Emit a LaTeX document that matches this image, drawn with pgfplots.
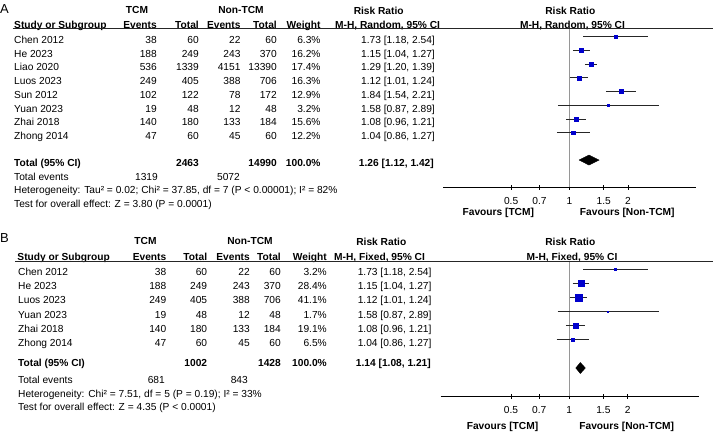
\documentclass[border=0pt]{standalone}
\usepackage{fontspec}
\setmainfont{Liberation Sans}
\usepackage{pgfplots}
\usepackage{pgfplotstable}
\pgfplotsset{compat=1.18}
\definecolor{rmblue}{RGB}{0,0,205}
\definecolor{rmgray}{RGB}{150,150,150}
\newcommand\fs{\fontsize{10.2bp}{12bp}\selectfont}
\newcommand\fb{\fontsize{10.2bp}{12bp}\selectfont\bfseries}
\tikzset{
 tl/.style={anchor=base west, inner sep=0pt, font=\fs},
 tr/.style={anchor=base east, inner sep=0pt, font=\fs},
 tc/.style={anchor=base, inner sep=0pt, font=\fs},
 bl/.style={anchor=base west, inner sep=0pt, font=\fb},
 br/.style={anchor=base east, inner sep=0pt, font=\fb},
 bc/.style={anchor=base, inner sep=0pt, font=\fb},
}
\newcommand\Lt[3]{\node[tl] at (#1,#2+3.6) {#3};}
\newcommand\Rt[3]{\node[tr] at (#1,#2+3.6) {#3};}
\newcommand\Ct[3]{\node[tc] at (#1,#2+3.6) {#3};}
\newcommand\Lb[3]{\node[bl] at (#1,#2+3.6) {#3};}
\newcommand\Rb[3]{\node[br] at (#1,#2+3.6) {#3};}
\newcommand\Cb[3]{\node[bc] at (#1,#2+3.6) {#3};}
% panel rows: y, name, e1, t1, e2, t2, weight, rr
\newcommand\rowA[8]{\Lt{14}{#1}{#2}\Rt{157}{#1}{#3}\Rt{199}{#1}{#4}\Rt{240.7}{#1}{#5}\Rt{277}{#1}{#6}\Rt{320.7}{#1}{#7}\Rt{435}{#1}{#8}}
\newcommand\rowB[8]{\Lt{18}{#1}{#2}\Rt{166.5}{#1}{#3}\Rt{207.3}{#1}{#4}\Rt{250}{#1}{#5}\Rt{281}{#1}{#6}\Rt{327}{#1}{#7}\Rt{431.7}{#1}{#8}}

% k = row, rr, lo, hi, hs = half side of square
\pgfplotstableread{
k rr lo hi hs
0 1.73 1.18 2.54 1.35
1 1.15 1.04 1.27 2.15
2 1.29 1.20 1.39 2.25
3 1.12 1.01 1.24 2.15
4 1.84 1.54 2.21 1.95
5 1.58 0.87 2.89 0.95
6 1.08 0.96 1.21 2.1
7 1.04 0.86 1.27 1.85
}\dataA
\pgfplotstableread{
k rr lo hi hs
0 1.73 1.18 2.54 0.95
1 1.15 1.04 1.27 2.85
2 1.12 1.01 1.24 3.5
3 1.58 0.87 2.89 0.7
4 1.08 0.96 1.21 2.35
5 1.04 0.86 1.27 1.35
}\dataB

\newcommand\forestopts{scale only axis, xmode=log, axis x line*=bottom, axis y line*=left,
  y axis line style={draw=none}, ytick=\empty, yticklabels={},
  xtick={0.5,0.7,1,1.5,2}, xticklabels={0.5,0.7,1,1.5,2}, xminorticks=false,
  tick align=center, major tick length=5bp,
  x tick style={black, line width=0.8bp},
  x axis line style={black, line width=0.8bp},
  xticklabel style={font=\fs, anchor=base, inner sep=0pt, yshift=-14.6bp},
  clip=false}

% draws CI line and weighted square for row #1 of table #2
\newcommand\studyplot[2]{%
  \pgfplotstablegetelem{#1}{rr}\of#2\let\vRR\pgfplotsretval
  \pgfplotstablegetelem{#1}{lo}\of#2\let\vLo\pgfplotsretval
  \pgfplotstablegetelem{#1}{hi}\of#2\let\vHi\pgfplotsretval
  \pgfplotstablegetelem{#1}{hs}\of#2\let\vHs\pgfplotsretval
  \edef\doplot{\noexpand\addplot[black!85, line width=0.8bp, forget plot] coordinates {(\vLo,-#1) (\vHi,-#1)};
    \noexpand\addplot[only marks, mark=square*, mark size=\vHs pt, color=rmblue, mark options={line width=0.2pt}, forget plot] coordinates {(\vRR,-#1)};}%
  \doplot}

\begin{document}
\begin{tikzpicture}
\begin{scope}[x=1bp, y=-1bp]
\useasboundingbox (0,0) rectangle (713,437);

% ================= Panel A text =================
\node[anchor=base west, inner sep=0pt, font=\fontsize{13bp}{15bp}\selectfont] at (0,13.6) {A};
\Cb{137}{10}{TCM}
\Cb{241}{10}{Non-TCM}
\Cb{378.7}{10.5}{Risk Ratio}
\Cb{570.3}{10.5}{Risk Ratio}
\Lb{14}{25}{Study or Subgroup}
\Rb{157}{25}{Events}
\Rb{199}{25}{Total}
\Rb{240.7}{25}{Events}
\Rb{277}{25}{Total}
\Rb{320.7}{25}{Weight}
\Lb{335}{25}{M-H, Random, 95\% CI}
\Cb{572.5}{25}{M-H, Random, 95\% CI}
\draw[line width=1bp, black!85] (12.7,29) -- (713,29);

\rowA{40}{Chen 2012}{38}{60}{22}{60}{6.3\%}{1.73 [1.18, 2.54]}
\rowA{53.7}{He 2023}{188}{249}{243}{370}{16.2\%}{1.15 [1.04, 1.27]}
\rowA{67.4}{Liao 2020}{536}{1339}{4151}{13390}{17.4\%}{1.29 [1.20, 1.39]}
\rowA{81.1}{Luos 2023}{249}{405}{388}{706}{16.3\%}{1.12 [1.01, 1.24]}
\rowA{94.8}{Sun 2012}{102}{122}{78}{172}{12.9\%}{1.84 [1.54, 2.21]}
\rowA{108.5}{Yuan 2023}{19}{48}{12}{48}{3.2\%}{1.58 [0.87, 2.89]}
\rowA{122.2}{Zhai 2018}{140}{180}{133}{184}{15.6\%}{1.08 [0.96, 1.21]}
\rowA{135.9}{Zhong 2014}{47}{60}{45}{60}{12.2\%}{1.04 [0.86, 1.27]}

\Lb{14}{162.7}{Total (95\% CI)}
\Rb{199}{162.7}{2463}
\Rb{277}{162.7}{14990}
\Rb{320.7}{162.7}{100.0\%}
\Rb{434}{162.7}{1.26 [1.12, 1.42]}
\Lt{14}{176.5}{Total events}
\Rt{158}{176.5}{1319}
\Rt{240}{176.5}{5072}
\Lt{14}{189.5}{Heterogeneity: Tau² = 0.02; Chi² = 37.85, df = 7 (P < 0.00001); I² = 82\%}
\Lt{14}{203.5}{Test for overall effect: Z = 3.80 (P = 0.0001)}
\Cb{498.3}{212.3}{Favours [TCM]}
\Cb{627.3}{212.3}{Favours [Non-TCM]}

% ================= Panel B text =================
\node[anchor=base west, inner sep=0pt, font=\fontsize{13bp}{15bp}\selectfont] at (0,242.6) {B};
\Cb{145.5}{241}{TCM}
\Cb{250}{241}{Non-TCM}
\Cb{381.3}{242}{Risk Ratio}
\Cb{570.3}{242}{Risk Ratio}
\Lb{17.3}{257}{Study or Subgroup}
\Rb{166.5}{257}{Events}
\Rb{207.3}{257}{Total}
\Rb{250}{257}{Events}
\Rb{281}{257}{Total}
\Rb{327}{257}{Weight}
\Lb{334}{257}{M-H, Fixed, 95\% CI}
\Cb{572}{257}{M-H, Fixed, 95\% CI}
\draw[line width=1bp, black!85] (15,262) -- (713,262);

\rowB{271.7}{Chen 2012}{38}{60}{22}{60}{3.2\%}{1.73 [1.18, 2.54]}
\rowB{285.96}{He 2023}{188}{249}{243}{370}{28.4\%}{1.15 [1.04, 1.27]}
\rowB{300.2}{Luos 2023}{249}{405}{388}{706}{41.1\%}{1.12 [1.01, 1.24]}
\rowB{314.5}{Yuan 2023}{19}{48}{12}{48}{1.7\%}{1.58 [0.87, 2.89]}
\rowB{328.7}{Zhai 2018}{140}{180}{133}{184}{19.1\%}{1.08 [0.96, 1.21]}
\rowB{343}{Zhong 2014}{47}{60}{45}{60}{6.5\%}{1.04 [0.86, 1.27]}

\Lb{18}{363.3}{Total (95\% CI)}
\Rb{207.3}{363.3}{1002}
\Rb{281}{363.3}{1428}
\Rb{327}{363.3}{100.0\%}
\Rb{431}{363.3}{1.14 [1.08, 1.21]}
\Lt{18}{379.5}{Total events}
\Rt{165}{379.5}{681}
\Rt{248}{379.5}{843}
\Lt{18}{394}{Heterogeneity: Chi² = 7.51, df = 5 (P = 0.19); I² = 33\%}
\Lt{18}{406.5}{Test for overall effect: Z = 4.35 (P < 0.0001)}
\Cb{502.5}{426}{Favours [TCM]}
\Cb{626.7}{426}{Favours [Non-TCM]}
\end{scope}

% ================= Panel A plot =================
\edef\tmp{\noexpand\begin{axis}[\unexpanded\expandafter{\forestopts}, at={(443.3bp,-187.3bp)}, anchor=south west,
  width=252.4bp, height=158.3bp,
  xmin=0.2236, xmax=4.472, ymin=-10.99, ymax=0.562]}\tmp
\addplot[rmgray, line width=1.5bp, forget plot] coordinates {(1,0.562) (1,-10.99)};
\pgfplotsinvokeforeach{0,...,7}{\studyplot{#1}{\dataA}}
\addplot[fill=black, draw=black, line width=0.4bp] coordinates {(1.12,-9) (1.26,-9.365) (1.42,-9) (1.26,-8.635) (1.12,-9)};
\end{axis}

% ================= Panel B plot =================
\edef\tmp{\noexpand\begin{axis}[\unexpanded\expandafter{\forestopts}, at={(440.7bp,-396bp)}, anchor=south west,
  width=258.3bp, height=134bp,
  xmin=0.2167, xmax=4.675, ymin=-8.986, ymax=0.518]}\tmp
\addplot[rmgray, line width=1.5bp, forget plot] coordinates {(1,0.518) (1,-8.986)};
\pgfplotsinvokeforeach{0,...,5}{\studyplot{#1}{\dataB}}
\addplot[fill=black, draw=black, line width=0.4bp] coordinates {(1.08,-7) (1.14,-7.39) (1.21,-7) (1.14,-6.61) (1.08,-7)};
\end{axis}
\end{tikzpicture}
\end{document}
